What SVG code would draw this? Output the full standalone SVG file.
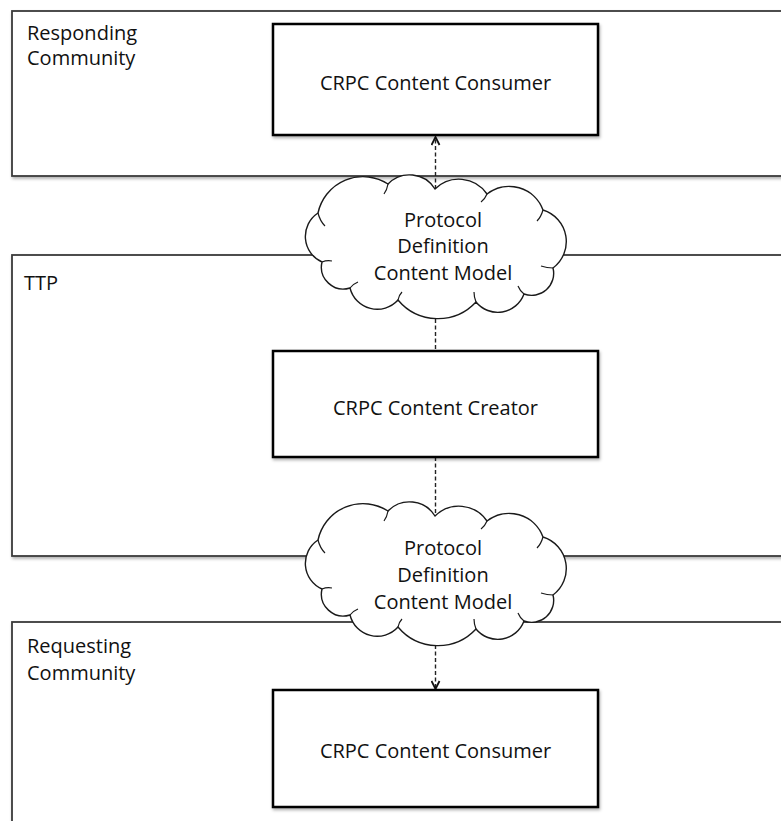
<svg xmlns="http://www.w3.org/2000/svg" width="781" height="821" viewBox="0 0 781 821">
  <defs>
    <style>
      .panel { fill: #ffffff; stroke: #3a3a3a; stroke-width: 1.8; }
      .box { fill: #ffffff; stroke: #000000; stroke-width: 2.5; }
      .cloud { fill: #ffffff; stroke: #1a1a1a; stroke-width: 1.4; }
      .crease { fill: none; stroke: #1a1a1a; stroke-width: 1.2; }
      .label { font-family: "Open Sans", "Noto Sans", sans-serif; font-size: 20px; fill: #111111; }
      .mid { text-anchor: middle; }
      .conn { fill: none; stroke: #222222; stroke-width: 1.4; stroke-dasharray: 4 2.5; }
    </style>
    <filter id="shadow" x="-10%" y="-10%" width="120%" height="130%">
      <feDropShadow dx="1" dy="2" stdDeviation="1.4" flood-color="#000" flood-opacity="0.3"/>
    </filter>
    <marker id="arrow" viewBox="0 0 10 10" refX="9" refY="5" markerWidth="10" markerHeight="10" markerUnits="userSpaceOnUse" orient="auto">
      <path d="M1 1 L9 5 L1 9" fill="none" stroke="#111" stroke-width="1.8"/>
    </marker>
    <path id="cloudShape" d="M 318 213 A 46 46 0 0 1 388 184 A 30 30 0 0 1 435 189 A 34 34 0 0 1 487 194 A 36 36 0 0 1 543 210 A 33 33 0 0 1 553 268 A 22 22 0 0 1 524 294 A 28 28 0 0 1 476 302 A 52 52 0 0 1 398 300 A 28 28 0 0 1 350 288 A 22 22 0 0 1 322 262 A 28 28 0 0 1 318 213 Z"/>
    <path id="cloudCreases" d="M 318 213 q 2 8 7 13 M 388 184 q -1 6 -4 10 M 487 194 q -2 5 -6 8 M 543 210 q -2 7 -6 11 M 553 268 q -6 0 -12 -2 M 524 294 q -4 -3 -6 -8 M 476 302 q -2 -5 -2 -10 M 398 300 q 1 -5 4 -8 M 350 288 q 3 -4 8 -6 M 322 262 q 5 -2 10 -1"/>
  </defs>

  <rect width="781" height="821" fill="#ffffff"/>

  <g id="panel-responding">
    <rect class="panel" x="12" y="11" width="800" height="165" filter="url(#shadow)"/>
    <text class="label" x="27" y="40">Responding</text>
    <text class="label" x="27" y="65">Community</text>
  </g>

  <g id="panel-ttp">
    <rect class="panel" x="12" y="255" width="800" height="301" filter="url(#shadow)"/>
    <text class="label" x="24" y="290">TTP</text>
  </g>

  <g id="panel-requesting">
    <rect class="panel" x="12" y="622" width="800" height="240" filter="url(#shadow)"/>
    <text class="label" x="27" y="653">Requesting</text>
    <text class="label" x="27" y="680">Community</text>
  </g>

  <g id="connectors">
    <line class="conn" x1="435.5" y1="189" x2="435.5" y2="137" marker-end="url(#arrow)"/>
    <line class="conn" x1="435.5" y1="319" x2="435.5" y2="351"/>
    <line class="conn" x1="435.5" y1="457" x2="435.5" y2="516"/>
    <line class="conn" x1="435.5" y1="645" x2="435.5" y2="689" marker-end="url(#arrow)"/>
  </g>

  <g id="cloud-top">
    <use href="#cloudShape" class="cloud"/>
    <use href="#cloudCreases" class="crease"/>
    <text class="label mid" x="443" y="227">Protocol</text>
    <text class="label mid" x="443" y="253">Definition</text>
    <text class="label mid" x="443" y="280">Content Model</text>
  </g>

  <g id="cloud-bottom">
    <g transform="translate(0,327)">
      <use href="#cloudShape" class="cloud"/>
      <use href="#cloudCreases" class="crease"/>
    </g>
    <text class="label mid" x="443" y="555">Protocol</text>
    <text class="label mid" x="443" y="582">Definition</text>
    <text class="label mid" x="443" y="609">Content Model</text>
  </g>

  <g id="consumer-top">
    <rect class="box" x="273" y="24" width="325" height="111" filter="url(#shadow)"/>
    <text class="label mid" x="435.5" y="90">CRPC Content Consumer</text>
  </g>

  <g id="creator">
    <rect class="box" x="273" y="351" width="325" height="106" filter="url(#shadow)"/>
    <text class="label mid" x="435.5" y="415">CRPC Content Creator</text>
  </g>

  <g id="consumer-bottom">
    <rect class="box" x="273" y="690" width="325" height="117" filter="url(#shadow)"/>
    <text class="label mid" x="435.5" y="758">CRPC Content Consumer</text>
  </g>
</svg>
